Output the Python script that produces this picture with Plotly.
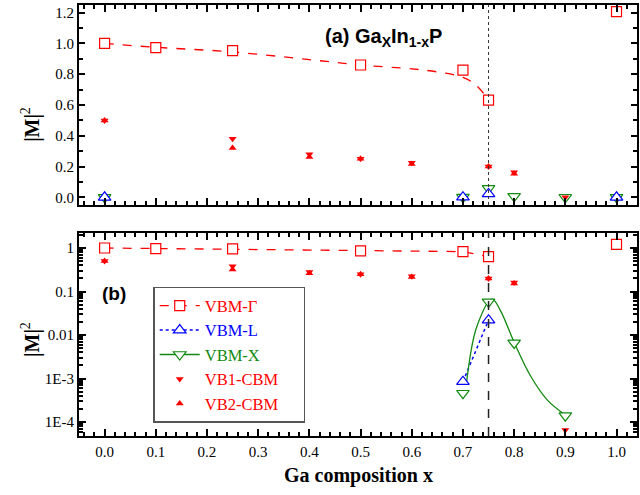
import plotly.graph_objects as go

# ---------------- data ----------------
gam_x = [0.0, 0.1, 0.25, 0.5, 0.7, 0.75, 1.0]
gam_y = [1.0, 0.973, 0.953, 0.86, 0.827, 0.632, 1.207]

# smooth fitted curve drawn through VBM-Gamma in panel (a)
gam_fit_x = [0.0, 0.1, 0.25, 0.4, 0.5, 0.6, 0.65, 0.7, 0.725, 0.75]
gam_fit_y = [1.0, 0.975, 0.945, 0.895, 0.86, 0.835, 0.815, 0.78, 0.73, 0.635]

L_x = [0.0, 0.7, 0.75, 1.0]
L_y = [0.0, 8.5e-4, 0.022, 0.0]

X_x = [0.0, 0.7, 0.75, 0.8, 0.9, 1.0]
X_y = [0.0, 4.6e-4, 0.058, 0.0066, 1.4e-4, 0.0]

# smooth fitted curve drawn through VBM-X in panel (b)
X_fit_x = [0.707, 0.727, 0.757, 0.773, 0.8, 0.833, 0.865, 0.9]
X_fit_y = [7.9e-4, 0.0155, 0.067, 0.037, 0.0068, 1.1e-3, 3.2e-4, 1.45e-4]

VB1_x = [0.0, 0.25, 0.4, 0.5, 0.6, 0.75, 0.8, 0.9]
VB1_y = [0.5, 0.38, 0.28, 0.25, 0.225, 0.2, 0.162, 6.6e-5]

VB2_x = [0.0, 0.25, 0.4, 0.5, 0.6, 0.75, 0.8]
VB2_y = [0.5, 0.32, 0.262, 0.25, 0.216, 0.2, 0.153]

x_cross = 0.75

xticks = [0.0, 0.1, 0.2, 0.3, 0.4, 0.5, 0.6, 0.7, 0.8, 0.9, 1.0]
xticktext = ["0.0", "0.1", "0.2", "0.3", "0.4", "0.5", "0.6", "0.7", "0.8", "0.9", "1.0"]
ya_ticks = [0.0, 0.2, 0.4, 0.6, 0.8, 1.0, 1.2]
ya_text = ["0.0", "0.2", "0.4", "0.6", "0.8", "1.0", "1.2"]
yb_ticks = [1e-4, 1e-3, 0.01, 0.1, 1]
yb_text = ["1E-4", "1E-3", "0.01", "0.1", "1"]

RED = "#ff0000"
BLUE = "#0000ff"
GREEN = "#108a10"
SERIF = "Liberation Serif, Times New Roman, serif"
SANS = "Liberation Sans, Arial, sans-serif"

fig = go.Figure()

open_sq = dict(symbol="square", size=10, color="white", line=dict(color=RED, width=1.2))
open_up = dict(symbol="triangle-up", size=11, color="white", line=dict(color=BLUE, width=1.2))
open_dn = dict(symbol="triangle-down", size=11, color="white", line=dict(color=GREEN, width=1.2))
fill_dn = dict(symbol="triangle-down", size=7, color=RED, line=dict(width=0))
fill_up = dict(symbol="triangle-up", size=7, color=RED, line=dict(width=0))

# ---------- panel (a) ----------
fig.add_trace(go.Scatter(x=gam_fit_x, y=gam_fit_y, mode="lines", line=dict(color=RED, width=1.3, dash="dash", shape="spline"),
                         xaxis="x", yaxis="y", showlegend=False))
fig.add_trace(go.Scatter(x=gam_x, y=gam_y, mode="markers", marker=open_sq, xaxis="x", yaxis="y", showlegend=False))
fig.add_trace(go.Scatter(x=X_x, y=X_y, mode="markers", marker=open_dn, xaxis="x", yaxis="y", showlegend=False))
fig.add_trace(go.Scatter(x=L_x, y=L_y, mode="markers", marker=open_up, xaxis="x", yaxis="y", showlegend=False))
fig.add_trace(go.Scatter(x=VB1_x, y=VB1_y, mode="markers", marker=fill_dn, xaxis="x", yaxis="y", showlegend=False))
fig.add_trace(go.Scatter(x=VB2_x, y=VB2_y, mode="markers", marker=fill_up, xaxis="x", yaxis="y", showlegend=False))

# ---------- panel (b) ----------
fig.add_trace(go.Scatter(x=gam_x[:-1], y=gam_y[:-1], mode="lines", line=dict(color=RED, width=1.3, dash="dash"),
                         xaxis="x2", yaxis="y2", showlegend=False))
fig.add_trace(go.Scatter(x=L_x[1:3], y=L_y[1:3], mode="lines", line=dict(color=BLUE, width=1.5, dash="dot"),
                         xaxis="x2", yaxis="y2", showlegend=False))
fig.add_trace(go.Scatter(x=X_fit_x, y=X_fit_y, mode="lines", line=dict(color=GREEN, width=1.3, shape="spline"),
                         xaxis="x2", yaxis="y2", showlegend=False))
fig.add_trace(go.Scatter(x=gam_x, y=gam_y, mode="markers", marker=open_sq, xaxis="x2", yaxis="y2", showlegend=False))
fig.add_trace(go.Scatter(x=X_x[1:5], y=X_y[1:5], mode="markers", marker=open_dn, xaxis="x2", yaxis="y2", showlegend=False))
fig.add_trace(go.Scatter(x=L_x[1:3], y=L_y[1:3], mode="markers", marker=open_up, xaxis="x2", yaxis="y2", showlegend=False))
fig.add_trace(go.Scatter(x=VB1_x, y=VB1_y, mode="markers", marker=fill_dn, xaxis="x2", yaxis="y2", showlegend=False))
fig.add_trace(go.Scatter(x=VB2_x, y=VB2_y, mode="markers", marker=fill_up, xaxis="x2", yaxis="y2", showlegend=False))

# ---------- legend entries ----------
def leg(name, color, mode, marker, line=None):
    kw = dict(x=[None], y=[None], mode=mode, marker=marker, xaxis="x2", yaxis="y2",
              name=f"<span style='color:{color}'>{name}</span>&nbsp;&nbsp;&nbsp;&nbsp;&nbsp;", showlegend=True)
    if line is not None:
        kw["line"] = line
    fig.add_trace(go.Scatter(**kw))

leg("VBM-Γ", RED, "lines+markers", open_sq, dict(color=RED, width=1.3, dash="dash"))
leg("VBM-L", BLUE, "lines+markers", open_up, dict(color=BLUE, width=1.5, dash="dot"))
leg("VBM-X", GREEN, "lines+markers", open_dn, dict(color=GREEN, width=1.3))
leg("VB1-CBM", RED, "markers", fill_dn)
leg("VB2-CBM", RED, "markers", fill_up)

axis_common = dict(showline=True, linecolor="black", linewidth=2, mirror="allticks", ticks="inside",
                   tickcolor="black", tickwidth=1.5, showgrid=False, zeroline=False, automargin=False,
                   tickfont=dict(family=SERIF, size=15, color="black"))

fig.update_layout(
    width=640, height=495,
    margin=dict(l=79, r=3, t=5, b=59, autoexpand=False),
    paper_bgcolor="white", plot_bgcolor="white",
    xaxis=dict(domain=[0, 1], range=[-0.05, 1.04], anchor="y", tickvals=xticks, ticktext=xticktext,
               showticklabels=False, ticklen=7,
               minor=dict(dtick=0.02, tick0=0, ticks="inside", ticklen=4, tickcolor="black", tickwidth=1.5),
               **axis_common),
    yaxis=dict(domain=[0.536, 1], range=[-0.05, 1.25], anchor="x", tickvals=ya_ticks, ticktext=ya_text, ticklen=6,
               minor=dict(dtick=0.1, tick0=0, ticks="inside", ticklen=4, tickcolor="black", tickwidth=1.5),
               **axis_common),
    xaxis2=dict(domain=[0, 1], range=[-0.05, 1.04], anchor="y2", tickvals=xticks, ticktext=xticktext, ticklen=7,
                ticklabelstandoff=1,
                minor=dict(dtick=0.02, tick0=0, ticks="inside", ticklen=4, tickcolor="black", tickwidth=1.5),
                **axis_common),
    yaxis2=dict(domain=[0, 0.471], type="log", range=[-4.32, 0.345], anchor="x2", tickvals=yb_ticks, ticktext=yb_text,
                ticklen=7,
                minor=dict(dtick="D1", ticks="inside", ticklen=4, tickcolor="black", tickwidth=1.5),
                **axis_common),
    legend=dict(x=0.133, y=0.346, xanchor="left", yanchor="top", bgcolor="white", bordercolor="#555555",
                borderwidth=1.5, font=dict(family=SERIF, size=16.5), tracegroupgap=0, itemwidth=40),
    shapes=[
        dict(type="line", xref="x", yref="y domain", x0=x_cross, x1=x_cross, y0=0, y1=1,
             line=dict(color="#333333", width=1, dash="dot")),
        dict(type="line", xref="x2", yref="y2 domain", x0=x_cross, x1=x_cross, y0=0, y1=1,
             line=dict(color="#222222", width=1.5, dash="dash")),
    ],
    annotations=[
        dict(text="<b>(a) Ga<sub>X</sub>In<sub>1-x</sub>P</b>", xref="paper", yref="paper", x=0.545, y=0.925,
             showarrow=False, font=dict(family=SANS, size=20, color="black"), xanchor="center", yanchor="middle"),
        dict(text="<b>(b)</b>", xref="paper", yref="paper", x=0.038, y=0.33, showarrow=False,
             font=dict(family=SANS, size=19, color="black"), xanchor="left", yanchor="middle"),
        dict(text="<b>|M|</b><sup>2</sup>", xref="paper", yref="paper", x=-0.086, y=0.722, textangle=-90,
             showarrow=False, font=dict(family=SERIF, size=20, color="black"), xanchor="center", yanchor="middle"),
        dict(text="<b>|M|</b><sup>2</sup>", xref="paper", yref="paper", x=-0.086, y=0.223, textangle=-90,
             showarrow=False, font=dict(family=SERIF, size=20, color="black"), xanchor="center", yanchor="middle"),
        dict(text="<b>Ga composition x</b>", xref="paper", yref="paper", x=0.5, y=-0.0905, showarrow=False,
             font=dict(family=SERIF, size=20, color="black"), xanchor="center", yanchor="middle"),
    ],
)

fig.write_html("out.html", config={"displayModeBar": False},
               post_script="document.body.style.margin='0';document.documentElement.style.overflow='hidden';")
